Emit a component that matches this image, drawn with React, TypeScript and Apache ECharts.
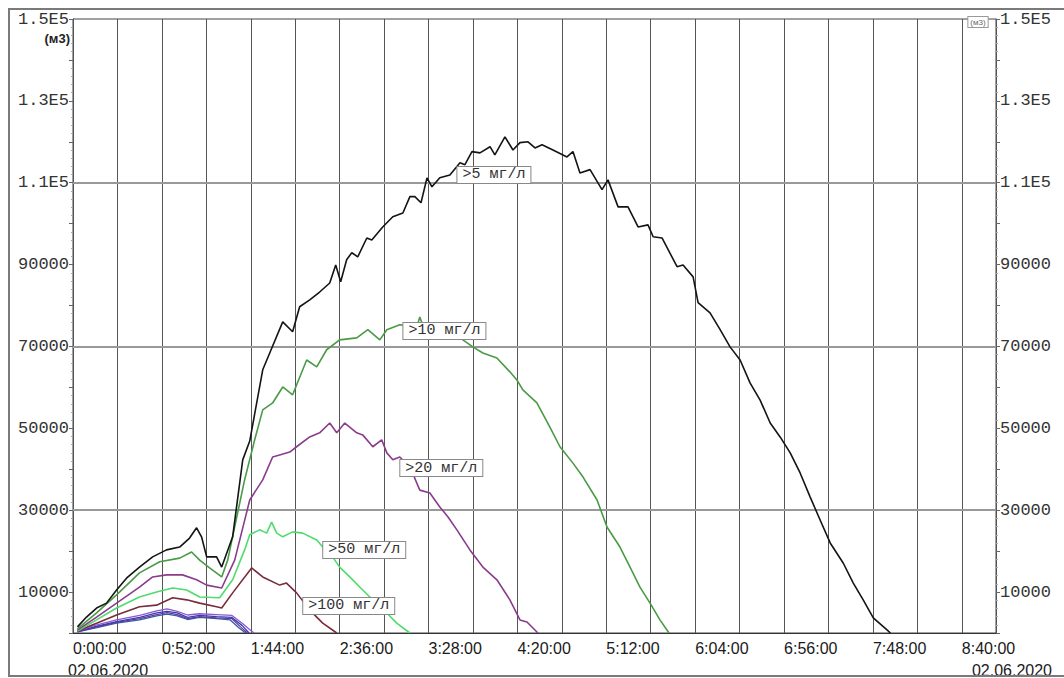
import React, { useEffect, useRef } from "react";
import * as echarts from "echarts";

type Pt = [number, number];

// Time is in minutes from 0:00:00, volume in m3.
const chartDate = "02.06.2020";
const unitText = "(м3)";
const timeMax = 540;
const volumeMax = 150000;
const guideLevels = [30000, 70000, 110000];

const over5: Pt[] = [
  [2.6, 1500], [7.9, 3900], [13.8, 6100], [19.6, 7300], [25.5, 10500], [31.3, 13400],
  [38.9, 16100], [46.6, 18600], [54.7, 20300], [62.4, 21000], [68.2, 23200], [72.3, 25700],
  [75.2, 23500], [78.2, 18600], [84.0, 18600], [87.0, 16100], [93.4, 23500], [99.3, 42300],
  [103.4, 46900], [111.0, 64300], [115.1, 68400], [122.7, 76000], [128.5, 73600], [132.6, 79700],
  [138.5, 81400], [144.3, 83300], [150.2, 85500], [153.7, 89900], [156.6, 85800], [160.1, 91200],
  [163.1, 92900], [166.6, 91900], [171.9, 96500], [174.8, 96000], [181.2, 99200], [187.1, 101700],
  [193.0, 102600], [197.1, 106600], [200.0, 106600], [203.6, 105100], [207.1, 111200], [210.0, 109000],
  [214.6, 111200], [220.5, 111900], [226.4, 114900], [229.3, 114400], [233.4, 117600], [238.1, 117300],
  [244.0, 118800], [246.8, 116800], [252.7, 121200], [257.4, 118000], [261.5, 119800], [266.2, 120000],
  [270.3, 118500], [274.4, 119300], [280.8, 118000], [289.0, 116300], [292.5, 117600], [296.6, 112400],
  [302.5, 113200], [309.5, 108300], [313.0, 110700], [318.9, 104100], [324.7, 104100], [330.6, 99200],
  [336.4, 99700], [339.4, 96800], [344.6, 96500], [353.4, 89500], [356.9, 89900], [362.8, 87000],
  [365.7, 80700], [372.7, 78200], [378.6, 74100], [384.4, 69900], [390.3, 66700], [396.1, 61100],
  [402.0, 56900], [407.9, 51300], [413.7, 47900], [419.6, 44000], [425.4, 39100], [431.3, 33200],
  [437.1, 27600], [443.0, 22000], [450.6, 17100], [456.5, 12200], [462.3, 8100], [468.2, 3700],
  [476.4, 700], [478.2, 0],
];

const over10: Pt[] = [
  [2.6, 1000], [13.8, 4900], [25.5, 9300], [38.9, 14700], [50.7, 17400], [62.4, 18300],
  [69.4, 19800], [74.1, 17800], [79.9, 15900], [87.0, 13700], [90.5, 17800], [100.4, 37400],
  [106.3, 47200], [111.0, 54500], [116.8, 56200], [122.7, 60100], [128.5, 58200], [136.7, 66700],
  [142.6, 65000], [148.4, 69200], [156.0, 71600], [166.0, 72100], [172.5, 74100], [179.5, 71600],
  [183.6, 74100], [191.2, 75300], [201.2, 74800], [202.9, 77200], [205.2, 74500], [214.6, 74000],
  [223.4, 73300], [228.1, 71600], [233.9, 69900], [239.8, 68400], [248.0, 67200], [255.6, 63800],
  [259.7, 61800], [263.2, 59400], [271.4, 56200], [279.0, 50300], [284.9, 45500], [292.5, 41500],
  [298.4, 38100], [306.6, 32500], [312.4, 25900], [320.0, 21000], [325.9, 16100], [331.7, 11200],
  [337.6, 7300], [343.4, 3200], [348.7, 0],
];

const over20: Pt[] = [
  [2.6, 700], [13.8, 3900], [25.5, 7300], [38.9, 11200], [46.6, 13700], [54.7, 14200],
  [64.1, 14200], [72.3, 13000], [78.2, 11700], [87.0, 11000], [94.6, 17800], [103.4, 32500],
  [111.0, 37400], [116.8, 43000], [120.9, 43500], [126.8, 44200], [130.8, 45500], [138.5, 47900],
  [144.3, 48900], [150.2, 51300], [154.3, 48900], [159.0, 51300], [166.0, 48900], [169.5, 48400],
  [175.4, 45500], [180.6, 47200], [183.6, 44000], [187.1, 42300], [191.2, 43000], [197.1, 40600],
  [202.9, 34900], [208.8, 34200], [214.6, 30800], [219.3, 28400], [224.6, 25200], [232.2, 20300],
  [239.8, 16100], [248.0, 13000], [255.6, 8100], [261.5, 3200], [265.6, 2700], [272.0, 0],
];

const over50: Pt[] = [
  [2.6, 500], [13.8, 3200], [25.5, 6100], [38.9, 8800], [48.9, 10000], [58.3, 11000],
  [66.5, 10500], [74.1, 8800], [85.8, 8600], [93.4, 13000], [100.4, 20300], [103.4, 24000],
  [109.2, 25200], [113.3, 24400], [116.2, 27100], [119.2, 24400], [122.7, 23500], [128.5, 24700],
  [134.4, 24400], [142.6, 22700], [146.1, 21000], [150.2, 19600], [156.0, 16100], [161.9, 13700],
  [169.5, 10500], [175.4, 8100], [183.6, 4900], [189.4, 2400], [197.1, 0],
];

const over100: Pt[] = [
  [2.6, 500], [13.8, 2400], [25.5, 4400], [38.9, 6400], [48.9, 6800], [58.3, 8600],
  [66.5, 8100], [74.1, 7300], [84.0, 6400], [87.0, 6100], [93.4, 9800], [104.5, 15900],
  [111.0, 13700], [120.9, 11700], [124.9, 12200], [130.8, 9800], [138.5, 5600], [146.1, 2400],
  [154.3, 0],
];

const over200: Pt[] = [
  [2.6, 600], [14, 2000], [25.5, 3200], [39, 4300], [49, 5400], [55, 5900], [61, 5300],
  [67, 4400], [74, 4700], [84, 4500], [93, 4300], [99, 2400], [104, 600], [106, 0],
];

const over300: Pt[] = [
  [2.6, 400], [14, 1700], [25.5, 2800], [39, 3800], [49, 4900], [55, 5300], [61, 4900],
  [67, 3800], [74, 4300], [84, 4000], [93, 3800], [99, 1800], [103, 0],
];

const over500: Pt[] = [
  [2.6, 300], [14, 1500], [25.5, 2600], [39, 3500], [49, 4500], [55, 5000], [61, 4500],
  [67, 3500], [74, 4000], [84, 3700], [93, 3500], [98, 1500], [102, 0],
];

const over1000: Pt[] = [
  [2.6, 300], [14, 1300], [25.5, 2400], [39, 3200], [49, 4200], [55, 4600], [61, 4200],
  [67, 3300], [74, 3800], [84, 3500], [92, 3200], [97, 1300], [101, 0],
];

// Threshold names and where each tag box sits (time, volume of its left-middle point).
const thresholdNames = [">5 мг/л", ">10 мг/л", ">20 мг/л", ">50 мг/л", ">100 мг/л", ">200 мг/л", ">300 мг/л", ">500 мг/л", ">1000 мг/л"];
const tagAnchors: (Pt | null)[] = [
  [224.6, 111900], [193.0, 73800], [191.2, 40300], [146.1, 20300], [134.4, 6600], null, null, null, null,
];
const seriesData = [over5, over10, over20, over50, over100, over200, over300, over500, over1000];
const seriesColors = ["#141414", "#4a9a46", "#8a3c8c", "#4fdc6c", "#7a2c3c", "#8a5ad0", "#3b3bb0", "#6a3a9a", "#2f5fa8"];

const pad2 = (n: number) => (n < 10 ? "0" + n : String(n));
const timeLabel = (v: number) =>
  v % 52 === 0 && v <= 520 ? `${Math.floor(v / 60)}:${pad2(v % 60)}:00` : "";
const volumeLabel = (v: number) => {
  if (v % 20000 !== 10000) return "";
  return v >= 100000 ? (v / 100000).toFixed(1) + "E5" : String(v);
};

export default function App() {
  const ref = useRef<HTMLDivElement>(null);

  useEffect(() => {
    if (!ref.current) return;
    const chart = echarts.init(ref.current, undefined, { renderer: "svg" });

    const yAxisBase = {
      type: "value" as const,
      min: 0,
      max: volumeMax,
      interval: 10000,
      splitLine: { show: false },
      axisLine: { show: true, lineStyle: { color: "#555", width: 1 } },
      axisTick: { show: true, length: 4, lineStyle: { color: "#666" } },
      minorTick: { show: true, splitNumber: 5, length: 2, lineStyle: { color: "#aaa" } },
      axisLabel: {
        formatter: volumeLabel,
        fontFamily: "Liberation Mono",
        fontSize: 17,
        color: "#333",
        margin: 4,
      },
    };

    const lineSeries = seriesData.map((data, i) => {
      const anchor = tagAnchors[i];
      const s: any = {
        name: thresholdNames[i],
        type: "line",
        data,
        showSymbol: false,
        symbol: "none",
        lineStyle: { color: seriesColors[i], width: i < 5 ? 1.6 : 1.3 },
        itemStyle: { color: seriesColors[i] },
        z: 3 + (9 - i),
      };
      if (anchor) {
        s.markPoint = {
          silent: true,
          symbol: "rect",
          symbolSize: 1,
          itemStyle: { color: "rgba(0,0,0,0)" },
          z: 20,
          data: [{ coord: anchor, value: 0 }],
          label: {
            show: true,
            position: "right",
            distance: 0,
            formatter: () => thresholdNames[i],
            fontFamily: "Liberation Mono",
            fontSize: 15,
            lineHeight: 15,
            color: "#333",
            backgroundColor: "#ffffff",
            borderColor: "#888",
            borderWidth: 1,
            padding: [1, 5, 0, 5],
          },
        };
      }
      return s;
    });

    const guideSeries: any = {
      name: "guides",
      type: "line",
      data: [],
      z: 1,
      markLine: {
        silent: true,
        symbol: "none",
        label: { show: false },
        lineStyle: { color: "#999", width: 2, type: "solid" },
        data: guideLevels.map((v) => ({ yAxis: v })),
      },
    };

    chart.setOption({
      animation: false,
      backgroundColor: "#ffffff",
      grid: {
        left: 73,
        right: 68,
        top: 19,
        bottom: 45,
        show: true,
        borderColor: "#444",
        borderWidth: 1,
        backgroundColor: "transparent",
      },
      xAxis: {
        type: "value",
        min: 0,
        max: timeMax,
        interval: 26,
        axisLine: { show: true, lineStyle: { color: "#333", width: 1 } },
        axisTick: { show: false },
        splitLine: { show: true, lineStyle: { color: "#555", width: 1 } },
        axisLabel: {
          formatter: timeLabel,
          align: "left",
          fontFamily: "Liberation Sans",
          fontSize: 16,
          color: "#1a1a1a",
          margin: 7,
        },
      },
      yAxis: [
        { ...yAxisBase, position: "left" },
        { ...yAxisBase, position: "right" },
      ],
      series: [guideSeries, ...lineSeries],
      graphic: [
        {
          type: "rect",
          silent: true,
          shape: { x: 9, y: 9, width: 1062, height: 667 },
          style: { fill: "none", stroke: "#7a7a7a", lineWidth: 2 },
          z: 100,
        },
        {
          type: "text",
          silent: true,
          x: 70,
          y: 38,
          style: {
            text: unitText,
            fontFamily: "Liberation Sans",
            fontSize: 13,
            fontWeight: "bold",
            fill: "#222",
            align: "right",
            verticalAlign: "middle",
          },
        },
        {
          type: "text",
          silent: true,
          x: 978,
          y: 22,
          style: {
            text: unitText,
            fontFamily: "Liberation Sans",
            fontSize: 8,
            fill: "#666",
            align: "center",
            verticalAlign: "middle",
            backgroundColor: "#fff",
            borderColor: "#999",
            borderWidth: 1,
            padding: [1, 2],
          },
        },
        {
          type: "text",
          silent: true,
          x: 68,
          y: 662,
          style: { text: chartDate, fontFamily: "Liberation Sans", fontSize: 16, fill: "#1a1a1a" },
        },
        {
          type: "text",
          silent: true,
          x: 1052,
          y: 662,
          style: { text: chartDate, fontFamily: "Liberation Sans", fontSize: 16, fill: "#1a1a1a", align: "right" },
        },
      ],
    });

    return () => chart.dispose();
  }, []);

  return (
    <div
      ref={ref}
      style={{ position: "fixed", left: 0, top: 0, width: 1064, height: 678, background: "#fff" }}
    />
  );
}
